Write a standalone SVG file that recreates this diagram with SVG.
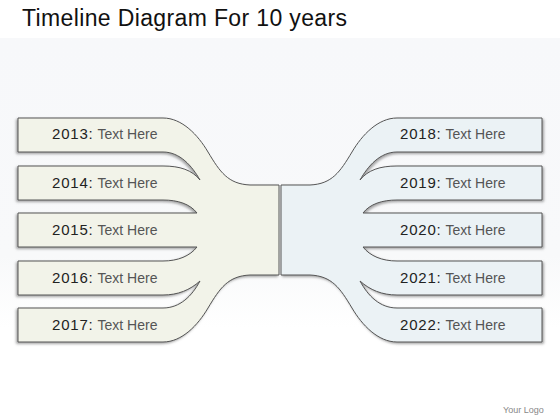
<svg xmlns="http://www.w3.org/2000/svg" width="560" height="420" viewBox="0 0 560 420">
  <defs>
    <linearGradient id="bg" x1="0" y1="0" x2="0" y2="1">
      <stop offset="0" stop-color="#f7f8fa"/>
      <stop offset="0.75" stop-color="#f8f9fa"/>
      <stop offset="1" stop-color="#ffffff"/>
    </linearGradient>
    <filter id="sh" x="-10%" y="-10%" width="120%" height="120%">
      <feDropShadow dx="-1.5" dy="1.5" stdDeviation="0.8" flood-color="#6a6a6a" flood-opacity="0.6"/>
    </filter>
    <path id="branch" d="M18,118 L163,118 C182,118 198,135 208,152 C220,172 228,184 250,185 L279,185 L279,275 L250,275 C228,276 220,288 208,308 C198,325 182,342 163,342 L18,342 L18,308 L163,308 C180,308 192,296 200,281 C190,290 178,295 163,295 L18,295 L18,261 L163,261 C178,261 190,256 197,247 L18,247 L18,213 L197,213 C190,204 178,200 163,200 L18,200 L18,166 L163,166 C180,166 192,170 200,180 C192,166 180,152 163,152 L18,152 Z"/>
  </defs>
  <style>
    .title { font-family: "Liberation Sans", "DejaVu Sans", sans-serif; font-size: 23px; fill: #111; }
    .lbl { font-family: "Liberation Sans", "DejaVu Sans", sans-serif; }
    .yr { font-size: 15px; fill: #222; letter-spacing: 0.8px; }
    .th { font-size: 14px; fill: #555; }
    .shape { stroke: #555; stroke-width: 1; stroke-linejoin: round; filter: url(#sh); }
    .logo { font-family: "Liberation Sans", "DejaVu Sans", sans-serif; font-size: 9px; fill: #888; }
  </style>

  <rect x="0" y="0" width="560" height="420" fill="#ffffff"/>
  <rect x="0" y="38" width="560" height="290" fill="url(#bg)"/>

  <text class="title" x="22" y="26" textLength="325" lengthAdjust="spacing">Timeline Diagram For 10 years</text>

  <g id="left-branch">
    <use href="#branch" class="shape" fill="#f2f3e9"/>
  </g>
  <g id="right-branch" transform="translate(560,0) scale(-1,1)">
    <use href="#branch" class="shape" fill="#ebf2f5"/>
  </g>

  <g id="connectors"></g>

  <g id="y2013"><text class="lbl" x="52" y="139"><tspan class="yr">2013:</tspan><tspan class="th" dx="4">Text Here</tspan></text></g>
  <g id="y2014"><text class="lbl" x="52" y="188"><tspan class="yr">2014:</tspan><tspan class="th" dx="4">Text Here</tspan></text></g>
  <g id="y2015"><text class="lbl" x="52" y="235"><tspan class="yr">2015:</tspan><tspan class="th" dx="4">Text Here</tspan></text></g>
  <g id="y2016"><text class="lbl" x="52" y="283"><tspan class="yr">2016:</tspan><tspan class="th" dx="4">Text Here</tspan></text></g>
  <g id="y2017"><text class="lbl" x="52" y="330"><tspan class="yr">2017:</tspan><tspan class="th" dx="4">Text Here</tspan></text></g>

  <g id="y2018"><text class="lbl" x="400" y="139"><tspan class="yr">2018:</tspan><tspan class="th" dx="4">Text Here</tspan></text></g>
  <g id="y2019"><text class="lbl" x="400" y="188"><tspan class="yr">2019:</tspan><tspan class="th" dx="4">Text Here</tspan></text></g>
  <g id="y2020"><text class="lbl" x="400" y="235"><tspan class="yr">2020:</tspan><tspan class="th" dx="4">Text Here</tspan></text></g>
  <g id="y2021"><text class="lbl" x="400" y="283"><tspan class="yr">2021:</tspan><tspan class="th" dx="4">Text Here</tspan></text></g>
  <g id="y2022"><text class="lbl" x="400" y="330"><tspan class="yr">2022:</tspan><tspan class="th" dx="4">Text Here</tspan></text></g>

  <text class="logo" x="503" y="413">Your Logo</text>
</svg>
